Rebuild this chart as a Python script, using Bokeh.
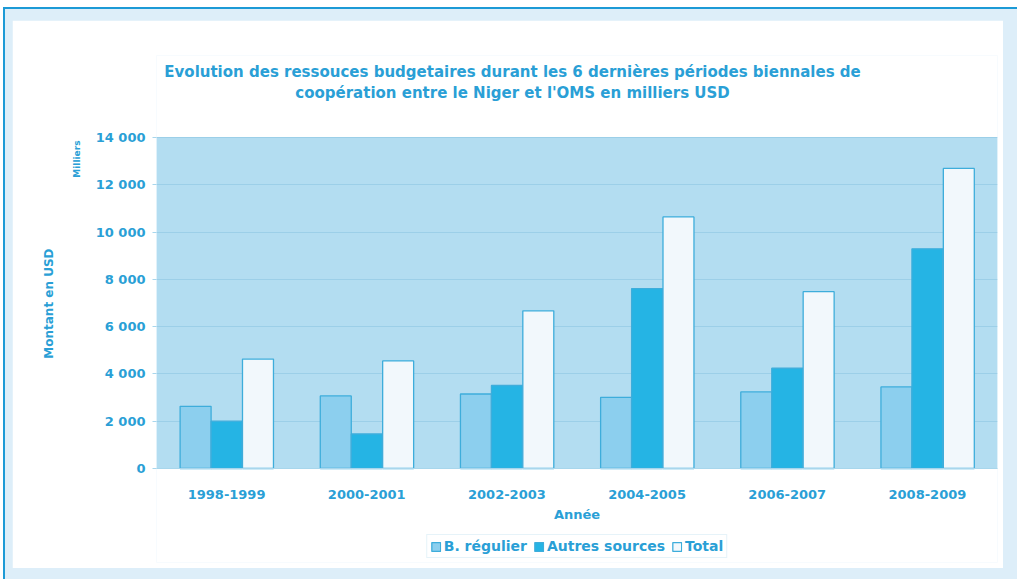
from bokeh.plotting import figure
from bokeh.models import (ColumnDataSource, FactorRange, FixedTicker, Legend,
                          LegendItem, Range1d, BoxAnnotation, Title, Label)
from bokeh.transform import dodge
from bokeh.layouts import column
from bokeh.embed import file_html
from bokeh.resources import INLINE

# ---------------- data ----------------
periods = ["1998-1999", "2000-2001", "2002-2003", "2004-2005", "2006-2007", "2008-2009"]
regulier = [2630, 3070, 3150, 3010, 3240, 3450]
autres = [2000, 1460, 3510, 7610, 4240, 9290]
total = [4630, 4550, 6670, 10640, 7480, 12690]
series_names = ["B. régulier", "Autres sources", "Total"]
y_ticks = [0, 2000, 4000, 6000, 8000, 10000, 12000, 14000]
y_tick_labels = ["0", "2 000", "4 000", "6 000", "8 000", "10 000", "12 000", "14 000"]
title_lines = ["Evolution des ressouces budgetaires durant les 6 dernières périodes biennales de",
               "coopération entre le Niger et l'OMS en milliers USD"]
y_title = "Montant en USD"
y_unit = "Milliers"
x_title = "Année"

# ---------------- style ----------------
TXT = "#2a9fd6"
FONT = "DejaVu Sans"
PLOT_BG = "#b3ddf1"
GRID = "#9ccfe8"
EDGE = "#3eaddb"
COLORS = ["#8ccfee", "#25b4e4", "#f2f8fc"]
OUTER = "#ddeef9"

y_top = y_ticks[-1]
# the drawing area extends above the scale (title) and below zero (axis labels, legend)
view_top = 17468
view_floor = -3976
title_y = [16749, 15861]
title_x = 2.54

src = ColumnDataSource(dict(period=periods, regulier=regulier, autres=autres, total=total))

W, H = 991, 548
p = figure(width=W, height=H, x_range=FactorRange(*periods), y_range=Range1d(view_floor, view_top),
           output_backend="svg", toolbar_location=None,
           min_border_left=144, min_border_right=6, min_border_top=35, min_border_bottom=6,
           background_fill_color="white", border_fill_color="white",
           outline_line_color=None)

# plot area (0 .. top of scale)
p.add_layout(BoxAnnotation(bottom=0, top=y_top, fill_color=PLOT_BG, fill_alpha=1,
                           line_color="#c4e5f4", line_width=1, level="image"))

bw = 0.221
r1 = p.vbar(x=dodge("period", -0.221, range=p.x_range), top="regulier", width=bw, source=src,
            fill_color=COLORS[0], line_color=EDGE, line_width=1.3)
r2 = p.vbar(x=dodge("period", 0.0, range=p.x_range), top="autres", width=bw, source=src,
            fill_color=COLORS[1], line_color=EDGE, line_width=1.3)
r3 = p.vbar(x=dodge("period", 0.224, range=p.x_range), top="total", width=bw, source=src,
            fill_color=COLORS[2], line_color=EDGE, line_width=1.3)

# grid
p.xgrid.grid_line_color = None
p.ygrid.grid_line_color = GRID
p.ygrid.ticker = FixedTicker(ticks=y_ticks)

# y axis
ya = p.yaxis[0]
ya.ticker = FixedTicker(ticks=y_ticks)
ya.major_label_overrides = {t: l for t, l in zip(y_ticks, y_tick_labels)}
ya.axis_line_color = None
ya.major_tick_line_color = "#a8d6ec"
ya.major_tick_out = 4
ya.major_tick_in = 0
ya.minor_tick_line_color = None
ya.major_label_standoff = 7
ya.major_label_text_font = FONT
ya.major_label_text_font_style = "bold"
ya.major_label_text_font_size = "13px"
ya.major_label_text_color = TXT
ya.axis_label = None

# y-side titles: unit ("Milliers") then axis title, stacked outward from the axis
p.add_layout(Title(text=y_unit, align="right", offset=85, vertical_align="middle", standoff=19,
                   text_font=FONT, text_font_style="bold", text_font_size="9px",
                   text_color=TXT), "left")
p.add_layout(Title(text=y_title, align="right", offset=193, vertical_align="middle", standoff=10,
                   text_font=FONT, text_font_style="bold", text_font_size="12px",
                   text_color=TXT), "left")

# x axis drawn at y = 0
xa = p.xaxis[0]
xa.fixed_location = 0
xa.axis_line_color = "#a8d6ec"
xa.major_tick_line_color = None
xa.major_label_standoff = 16
xa.major_label_text_font = FONT
xa.major_label_text_font_style = "bold"
xa.major_label_text_font_size = "13px"
xa.major_label_text_color = TXT
xa.axis_label = x_title
xa.axis_label_text_font = FONT
xa.axis_label_text_font_style = "bold"
xa.axis_label_text_font_size = "13px"
xa.axis_label_text_color = TXT
xa.axis_label_standoff = 4

# two-line centred title
for line, ty in zip(title_lines, title_y):
    p.add_layout(Label(x=title_x, y=ty, text=line, text_align="center", text_baseline="middle",
                       text_font=FONT, text_font_style="bold", text_font_size="15px",
                       text_color=TXT))

legend = Legend(items=[LegendItem(label=series_names[0], renderers=[r1]),
                       LegendItem(label=series_names[1], renderers=[r2]),
                       LegendItem(label=series_names[2], renderers=[r3])],
                orientation="horizontal", location="bottom_center",
                label_text_font=FONT, label_text_font_style="bold",
                label_text_font_size="14px", label_text_color=TXT,
                glyph_width=11, glyph_height=11, label_standoff=3, spacing=6,
                padding=3, margin=4, border_line_color="#cde7f4",
                background_fill_color="white", background_fill_alpha=1)
p.add_layout(legend)

layout = column(p, styles={"background-color": OUTER,
                           "margin-left": "3px", "margin-top": "7px",
                           "border-top": "2px solid #1c9ad6",
                           "border-left": "2px solid #1c9ad6",
                           "border-right": "none", "border-bottom": "none",
                           "outline": "none",
                           "padding": "11px 14px 11px 7px"})

open("out.html", "w").write(file_html(layout, INLINE))
